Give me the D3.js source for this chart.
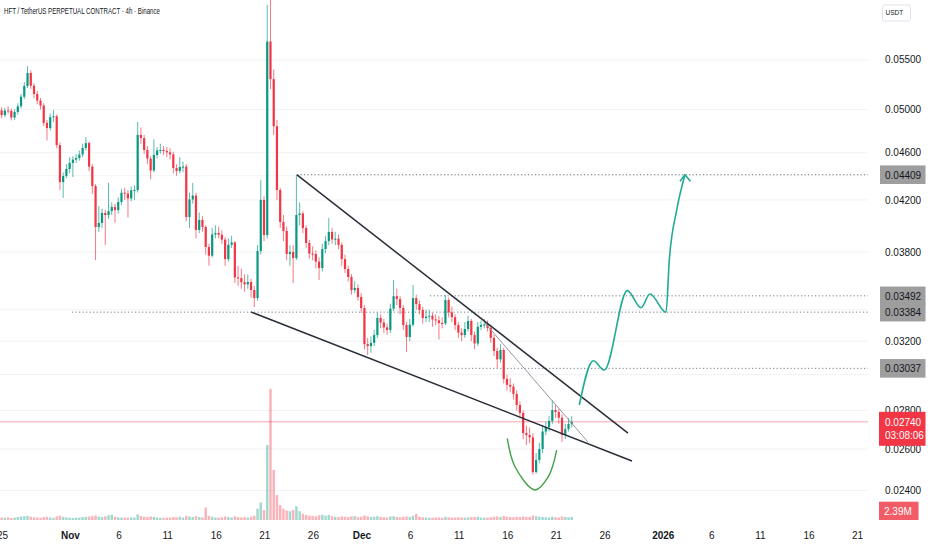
<!DOCTYPE html>
<html><head><meta charset="utf-8">
<script src="https://cdn.jsdelivr.net/npm/d3@7"></script>
<style>html,body{margin:0;padding:0;background:#fff;overflow:hidden}svg{display:block;font-family:"Liberation Sans",Arial,sans-serif}</style>
</head><body><svg id="c" width="932" height="550"></svg>
<script>
// ---------- DATA ----------
const title = "HFT / TetherUS PERPETUAL CONTRACT · 4h · Binance";
const startTime = "2025-10-24T22:00:00Z";   // first candle
const stepHours = 8;
const firstOpen = 0.04990;
const closes = [0.04946,0.04989,0.04985,0.04922,0.04975,0.05030,0.05123,0.05230,0.05363,0.05233,
 0.05150,0.05086,0.05037,0.04872,0.04823,0.04925,0.04934,0.04668,0.04347,0.04398,
 0.04458,0.04510,0.04539,0.04553,0.04584,0.04642,0.04686,0.04478,0.04314,0.03987,
 0.04018,0.04096,0.04080,0.04111,0.04143,0.04119,0.04184,0.04259,0.04252,0.04212,
 0.04279,0.04281,0.04760,0.04731,0.04624,0.04548,0.04445,0.04580,0.04620,0.04624,
 0.04615,0.04603,0.04585,0.04466,0.04441,0.04475,0.04478,0.04064,0.04204,0.04236,
 0.03964,0.04041,0.03987,0.03836,0.03773,0.03930,0.03941,0.03928,0.03891,0.03748,
 0.03853,0.03870,0.03618,0.03614,0.03585,0.03570,0.03586,0.03531,0.03477,0.03807,
 0.04200,0.03926,0.05698,0.05300,0.04840,0.04281,0.04025,0.03956,0.03785,0.03800,
 0.03755,0.04080,0.04092,0.03979,0.03866,0.03788,0.03785,0.03730,0.03684,0.03821,
 0.03880,0.03949,0.03892,0.03898,0.03852,0.03748,0.03677,0.03621,0.03531,0.03545,
 0.03484,0.03411,0.03182,0.03170,0.03190,0.03238,0.03346,0.03317,0.03286,0.03270,
 0.03407,0.03490,0.03470,0.03411,0.03301,0.03226,0.03303,0.03477,0.03437,0.03398,
 0.03346,0.03355,0.03361,0.03337,0.03331,0.03314,0.03311,0.03464,0.03382,0.03351,
 0.03301,0.03253,0.03238,0.03276,0.03327,0.03238,0.03186,0.03290,0.03302,0.03305,
 0.03282,0.03220,0.03140,0.03090,0.03146,0.02976,0.02942,0.02932,0.02891,0.02830,
 0.02787,0.02681,0.02671,0.02659,0.02487,0.02546,0.02600,0.02689,0.02712,0.02745,
 0.02803,0.02792,0.02762,0.02671,0.02702,0.02728,0.02740];
const highs = [0.05020,0.05015,0.05030,0.05005,0.05000,0.05060,0.05150,0.05270,0.05435,0.05390,
 0.05260,0.05180,0.05110,0.05060,0.04900,0.04960,0.04994,0.04950,0.04690,0.04430,
 0.04500,0.04560,0.04570,0.04590,0.04620,0.04680,0.04740,0.04700,0.04500,0.04330,
 0.04150,0.04130,0.04120,0.04340,0.04180,0.04170,0.04220,0.04290,0.04300,0.04280,
 0.04310,0.04320,0.04880,0.04830,0.04760,0.04660,0.04570,0.04720,0.04650,0.04680,
 0.04660,0.04650,0.04640,0.04610,0.04500,0.04560,0.04520,0.04500,0.04260,0.04340,
 0.04260,0.04100,0.04070,0.04000,0.03860,0.03980,0.04000,0.03990,0.03960,0.03910,
 0.03900,0.03920,0.03880,0.03700,0.03680,0.03640,0.03640,0.03610,0.03560,0.03850,
 0.04364,0.04230,0.06113,0.06250,0.05400,0.04900,0.04300,0.04080,0.03990,0.03850,
 0.03850,0.04409,0.04180,0.04110,0.04000,0.03890,0.03840,0.03810,0.03760,0.03860,
 0.03920,0.04057,0.03980,0.03950,0.03930,0.03870,0.03780,0.03700,0.03640,0.03590,
 0.03570,0.03510,0.03430,0.03220,0.03230,0.03270,0.03380,0.03370,0.03340,0.03310,
 0.03440,0.03600,0.03540,0.03490,0.03430,0.03320,0.03340,0.03565,0.03500,0.03460,
 0.03420,0.03400,0.03400,0.03380,0.03370,0.03360,0.03350,0.03497,0.03480,0.03420,
 0.03370,0.03320,0.03280,0.03320,0.03360,0.03340,0.03260,0.03320,0.03330,0.03340,
 0.03330,0.03300,0.03240,0.03160,0.03180,0.03160,0.03000,0.02980,0.02950,0.02910,
 0.02850,0.02800,0.02720,0.02710,0.02680,0.02580,0.02630,0.02720,0.02740,0.02770,
 0.02857,0.02830,0.02810,0.02780,0.02730,0.02760,0.02770];
const lows = [0.04915,0.04925,0.04960,0.04895,0.04900,0.04950,0.05010,0.05100,0.05210,0.05200,
 0.05110,0.05050,0.05000,0.04840,0.04710,0.04800,0.04880,0.04640,0.04280,0.04216,
 0.04380,0.04420,0.04390,0.04510,0.04530,0.04560,0.04620,0.04440,0.04250,0.03741,
 0.03950,0.03980,0.03850,0.04050,0.04080,0.04020,0.04090,0.04160,0.04200,0.04060,
 0.04190,0.04200,0.04260,0.04680,0.04590,0.04500,0.04370,0.04430,0.04550,0.04590,
 0.04580,0.04560,0.04540,0.04420,0.04400,0.04420,0.04430,0.04030,0.03980,0.04170,
 0.03900,0.03940,0.03950,0.03780,0.03700,0.03760,0.03900,0.03900,0.03860,0.03700,
 0.03730,0.03830,0.03580,0.03560,0.03540,0.03520,0.03540,0.03480,0.03418,0.03460,
 0.03780,0.03880,0.03900,0.05200,0.04760,0.04200,0.03980,0.03880,0.03740,0.03700,
 0.03580,0.03740,0.04000,0.03940,0.03830,0.03750,0.03740,0.03680,0.03600,0.03660,
 0.03790,0.03850,0.03860,0.03850,0.03820,0.03700,0.03650,0.03590,0.03500,0.03510,
 0.03460,0.03380,0.03150,0.03116,0.03130,0.03170,0.03220,0.03280,0.03250,0.03240,
 0.03250,0.03390,0.03430,0.03370,0.03270,0.03134,0.03200,0.03290,0.03400,0.03370,
 0.03310,0.03320,0.03320,0.03290,0.03300,0.03210,0.03280,0.03300,0.03350,0.03320,
 0.03270,0.03220,0.03200,0.03220,0.03260,0.03200,0.03150,0.03170,0.03270,0.03280,
 0.03260,0.03190,0.03110,0.03040,0.03070,0.02950,0.02910,0.02900,0.02860,0.02800,
 0.02760,0.02650,0.02620,0.02630,0.02475,0.02480,0.02530,0.02580,0.02670,0.02690,
 0.02730,0.02760,0.02730,0.02636,0.02650,0.02690,0.02710];
const volumes = [2.0,1.8,2.2,1.6,1.9,2.4,2.8,3.0,3.2,2.6,2.2,
 2.0,1.8,2.4,2.6,2.0,1.7,2.9,3.4,2.5,2.1,
 1.8,1.6,1.9,2.0,2.3,2.6,2.8,3.1,3.6,2.7,
 2.4,2.9,3.8,4.2,2.6,2.2,2.0,1.8,1.9,2.1,
 2.0,4.5,3.2,2.6,2.4,2.8,2.5,2.0,1.8,1.7,
 1.9,2.0,2.4,2.2,2.6,2.0,3.4,2.8,2.3,3.0,
 2.4,2.0,10.0,3.2,2.6,2.0,1.8,2.2,2.8,2.4,
 2.0,2.9,2.4,2.1,2.3,2.0,2.6,3.4,9.0,14.0,
 8.0,60.0,105.0,40.0,20.0,12.0,9.0,7.5,7.0,8.0,
 11.0,7.0,5.0,4.0,3.5,3.2,3.0,3.8,4.2,3.4,
 4.0,3.0,2.6,2.4,2.8,2.6,2.4,2.9,3.2,2.4,
 2.6,3.6,3.0,2.4,2.6,3.0,2.4,2.2,2.0,2.8,
 3.0,2.4,2.2,2.6,2.8,2.4,3.4,5.0,2.6,2.2,
 2.0,1.8,1.9,2.0,2.1,1.8,2.6,2.2,1.9,2.0,
 2.2,2.0,1.9,2.1,2.3,2.4,2.6,2.0,1.8,1.9,
 2.2,2.6,2.8,2.3,3.2,2.6,2.4,2.2,2.5,2.3,
 2.8,2.5,2.4,3.6,3.0,2.6,2.4,2.2,2.0,2.6,
 2.2,2.0,2.8,2.4,2.2,2.39];
const gridTicks = [0.055,0.050,0.046,0.044,0.042,0.038,0.034,0.032,0.030,0.028,0.026,0.024];
const priceTicks = [0.055,0.050,0.046,0.042,0.038,0.032,0.028,0.026,0.024];
const timeTickDates = ["2025-10-25","2025-11-01","2025-11-06","2025-11-11","2025-11-16","2025-11-21","2025-11-26",
  "2025-12-01","2025-12-06","2025-12-11","2025-12-16","2025-12-21","2025-12-26",
  "2026-01-01","2026-01-06","2026-01-11","2026-01-16","2026-01-21"];
const timeTickLabels = ["25","Nov","6","11","16","21","26","Dec","6","11","16","21","26","2026","6","11","16","21"];
const boldLabels = ["Nov","Dec","2026"];
const levelPrices = [0.04409, 0.03492, 0.03384, 0.03037];
const levelStarts = ["2025-11-24T07:28Z","2025-12-08T00:00Z","2025-11-01T03:50Z","2025-12-08T00:00Z"];
const upperTrend = [["2025-11-24T07:28Z",0.04407],["2025-12-28T08:56Z",0.02681]];
const lowerTrend = [["2025-11-19T13:52Z",0.03385],["2025-12-28T18:49Z",0.02541]];
const innerTrend = [["2025-12-13T15:46Z",0.03314],["2025-12-24T06:09Z",0.02635]];
const projection = [["2025-12-23T08:40Z",0.02830],["2025-12-24T19:13Z",0.03082],["2025-12-25T22:24Z",0.03027],
  ["2025-12-28T07:12Z",0.03527],["2025-12-29T17:02Z",0.03413],["2025-12-30T15:16Z",0.03504],
  ["2026-01-01T06:46Z",0.03383],["2026-01-01T14:56Z",0.03741],["2026-01-02T09:11Z",0.04119],["2026-01-03T05:41Z",0.04409]];
const cupCurve = [["2025-12-15T22:50Z",0.02654],["2025-12-16T17:51Z",0.02513],["2025-12-18T19:15Z",0.02403],
  ["2025-12-20T04:06Z",0.02465],["2025-12-21T00:50Z",0.02595]];
const lastPrice = 0.02740, countdown = "03:08:06", lastVolume = "2.39M", currency = "USDT";

// ---------- SCALES ----------
const W = 932, H = 550, plotW = 868, plotH = 521;
const x = d3.scaleUtc().domain([new Date(Date.UTC(2025,9,24,18,0)), new Date(Date.UTC(2026,0,22,1,38))]).range([0, plotW]);
const y = d3.scaleLog().domain([0.02268, 0.06172]).range([520, 0]);
const yv = d3.scaleLinear().domain([0, 110]).range([520, 382.5]);
const UP = "#089981", DN = "#f23645";

const t0 = new Date(startTime);
const candles = closes.map((c, i) => {
  const o = i === 0 ? firstOpen : closes[i-1];
  return {t: d3.utcHour.offset(t0, i*stepHours), o, c, h: highs[i], l: lows[i], v: volumes[i]};
});
const bw = (x(d3.utcHour.offset(t0, stepHours)) - x(t0));
const P = d => [x(new Date(d[0])), y(d[1])];

const svg = d3.select("#c");
svg.append("rect").attr("width", W).attr("height", H).attr("fill", "#fff");
svg.append("defs").append("clipPath").attr("id","clip").append("rect").attr("width", plotW).attr("height", plotH);
const g = svg.append("g").attr("clip-path","url(#clip)");

// grid
g.selectAll("line.grid").data(gridTicks).join("line")
  .attr("x1",0).attr("x2",plotW).attr("y1",d=>y(d)).attr("y2",d=>y(d))
  .attr("stroke","#f0f2f6").attr("stroke-width",1);

// volume
g.selectAll("rect.vol").data(candles).join("rect")
  .attr("x", d => x(d.t) - bw*0.38).attr("width", bw*0.76)
  .attr("y", d => yv(d.v)).attr("height", d => yv(0) - yv(d.v))
  .attr("fill", d => d.c >= d.o ? UP : DN).attr("opacity", 0.38);

// dotted levels
levelPrices.forEach((p, i) => {
  g.append("line").attr("x1", x(new Date(levelStarts[i]))).attr("x2", plotW)
    .attr("y1", y(p)).attr("y2", y(p)).attr("stroke","#787b86").attr("stroke-width",1)
    .attr("stroke-dasharray","1.2,2.3");
});

// last price line
g.append("line").attr("x1",0).attr("x2",plotW).attr("y1",y(lastPrice)).attr("y2",y(lastPrice))
  .attr("stroke", DN).attr("stroke-opacity",0.45).attr("stroke-width",1);

// candles
const cg = g.append("g");
cg.selectAll("line.wick").data(candles).join("line")
  .attr("x1", d => x(d.t)).attr("x2", d => x(d.t))
  .attr("y1", d => y(d.h)).attr("y2", d => y(d.l))
  .attr("stroke", d => d.c >= d.o ? UP : DN).attr("stroke-width", 0.9).attr("stroke-opacity",0.75);
cg.selectAll("rect.body").data(candles).join("rect")
  .attr("x", d => x(d.t) - bw*0.34).attr("width", bw*0.68)
  .attr("y", d => y(Math.max(d.o, d.c)))
  .attr("height", d => Math.max(1, Math.abs(y(d.o) - y(d.c))))
  .attr("fill", d => d.c >= d.o ? UP : DN);

// trend lines
const line = d3.line().x(d => P(d)[0]).y(d => P(d)[1]);
g.append("path").attr("d", line(upperTrend)).attr("stroke","#2a2e39").attr("stroke-width",1.5).attr("fill","none");
g.append("path").attr("d", line(lowerTrend)).attr("stroke","#2a2e39").attr("stroke-width",1.5).attr("fill","none");
g.append("path").attr("d", line(innerTrend)).attr("stroke","#9598a1").attr("stroke-width",1).attr("fill","none");

// cup
g.append("path").attr("d", d3.line().x(d=>P(d)[0]).y(d=>P(d)[1]).curve(d3.curveCatmullRom)(cupCurve))
  .attr("stroke","#43a047").attr("stroke-width",1.4).attr("fill","none");
// projection
g.append("path").attr("d", d3.line().x(d=>P(d)[0]).y(d=>P(d)[1]).curve(d3.curveMonotoneX)(projection))
  .attr("stroke","#22ab94").attr("stroke-width",1.6).attr("fill","none");
const tip = P(projection[projection.length-1]);
g.append("path").attr("d", `M${tip[0]-5},${tip[1]+6.5}L${tip[0]},${tip[1]}L${tip[0]+5.5},${tip[1]+6.5}`)
  .attr("stroke","#22ab94").attr("stroke-width",1.6).attr("fill","none");

// title
svg.append("text").attr("x",4).attr("y",14).attr("font-size",9).attr("fill","#131722")
  .attr("textLength",156).attr("lengthAdjust","spacingAndGlyphs").text(title);

// price axis labels
const fmt = d => d.toFixed(5);
svg.selectAll("text.pt").data(priceTicks).join("text")
  .attr("x",885).attr("y",d=>y(d)+3.6).attr("font-size",10).attr("fill","#131722").text(fmt);

// currency box
svg.append("rect").attr("x",882.5).attr("y",5).attr("width",28).attr("height",16).attr("rx",2)
  .attr("fill","#fff").attr("stroke","#e0e3eb");
svg.append("text").attr("x",885.5).attr("y",15.2).attr("font-size",6.5).attr("fill","#131722").text(currency);

// level boxes
levelPrices.forEach(p => {
  svg.append("rect").attr("x",880).attr("y",y(p)-9.3).attr("width",45.5).attr("height",18.6)
    .attr("fill","#9e9e9e");
  svg.append("text").attr("x",885).attr("y",y(p)+3.8).attr("font-size",10).attr("fill","#131722").text(fmt(p));
});
// last price box
const yl = y(lastPrice);
svg.append("rect").attr("x",879).attr("y",yl-10).attr("width",46.5).attr("height",34).attr("fill",DN);
svg.append("text").attr("x",885).attr("y",yl+3.8).attr("font-size",10).attr("fill","#fff").text(fmt(lastPrice));
svg.append("text").attr("x",885).attr("y",yl+17.3).attr("font-size",10).attr("fill","#fff").text(countdown);
// volume box
const yvl = Math.min(yv(2.39), 511);
svg.append("rect").attr("x",879).attr("y",yvl-9.3).attr("width",39.5).attr("height",18.3).attr("fill","#f25c66");
svg.append("text").attr("x",884).attr("y",yvl+3.8).attr("font-size",10).attr("fill","#fff").text(lastVolume);

// time axis
svg.selectAll("text.tt").data(timeTickDates).join("text")
  .attr("x", d => x(new Date(d+"T00:00:00Z"))).attr("y",539).attr("text-anchor","middle")
  .attr("font-size",10).attr("fill","#131722")
  .attr("font-weight",(d,i)=> boldLabels.includes(timeTickLabels[i]) ? "bold" : "normal")
  .text((d,i)=>timeTickLabels[i]);
</script></body></html>
